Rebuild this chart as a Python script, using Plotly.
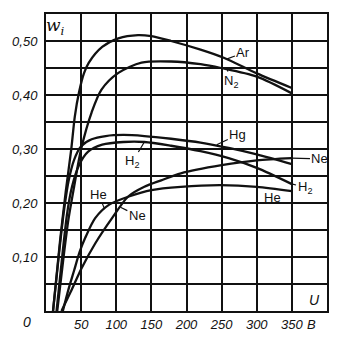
import plotly.graph_objects as go

# ---- data ----
ar_u  = [10, 20, 28, 36, 41, 47, 54, 61, 80, 103, 131, 150, 178, 220, 253, 300, 350]
ar_w  = [0, 0.13, 0.22, 0.30, 0.36, 0.405, 0.44, 0.46, 0.489, 0.505, 0.511, 0.509, 0.50, 0.484, 0.469, 0.44, 0.413]

n2_u  = [16, 25, 32, 40, 50, 65, 79, 103, 136, 178, 220, 249, 300, 350]
n2_w  = [0, 0.10, 0.17, 0.23, 0.30, 0.368, 0.41, 0.441, 0.460, 0.462, 0.457, 0.450, 0.434, 0.403]

hg_u  = [10, 18, 25, 32, 40, 50, 65, 85, 110, 140, 178, 220, 260, 300, 350]
hg_w  = [0, 0.10, 0.18, 0.24, 0.28, 0.305, 0.318, 0.324, 0.326, 0.324, 0.319, 0.312, 0.302, 0.29, 0.272]

h2_u  = [15, 23, 30, 37, 47, 60, 80, 110, 140, 178, 220, 260, 300, 350]
h2_w  = [0, 0.10, 0.18, 0.23, 0.27, 0.295, 0.308, 0.313, 0.313, 0.306, 0.296, 0.283, 0.265, 0.235]

he_u  = [24, 32, 40, 48, 56, 70, 90, 118, 150, 192, 248, 300, 350]
he_w  = [0, 0.04, 0.075, 0.11, 0.136, 0.172, 0.197, 0.212, 0.224, 0.230, 0.233, 0.230, 0.222]

ne_u  = [22, 35, 51, 70, 94, 117, 140, 164, 192, 250, 300, 350]
ne_w  = [0, 0.035, 0.08, 0.125, 0.172, 0.212, 0.23, 0.242, 0.255, 0.27, 0.279, 0.283]

x_ticks = [50, 100, 150, 200, 250, 300, 350]
x_text  = ["50", "100", "150", "200", "250", "300", "350"]
y_ticks = [0.05, 0.10, 0.15, 0.20, 0.25, 0.30, 0.35, 0.40, 0.45, 0.50]
y_text  = ["", "0,10", "", "0,20", "", "0,30", "", "0,40", "", "0,50"]

FONT = "Liberation Sans"
ink = "#111111"

fig = go.Figure()
for u, w in [(ar_u, ar_w), (n2_u, n2_w), (hg_u, hg_w), (h2_u, h2_w), (he_u, he_w), (ne_u, ne_w)]:
    fig.add_trace(go.Scatter(x=u, y=w, mode="lines",
                             line=dict(color=ink, width=2.3, shape="spline", smoothing=0.8),
                             showlegend=False, hoverinfo="skip"))

lab_font = dict(family=FONT, size=13, color=ink, style="normal")

def label(text, lx, ly, px=None, py=None):
    if px is None:
        fig.add_annotation(x=lx, y=ly, text=text, showarrow=False, font=lab_font)
    else:
        fig.add_annotation(x=px, y=py, ax=lx, ay=ly, axref="x", ayref="y",
                           text=text, showarrow=True, arrowhead=0, arrowwidth=1.2,
                           arrowcolor=ink, standoff=0, font=lab_font)

label("Ar", 281, 0.478, 256, 0.466)
label("N<sub>2</sub>", 264, 0.425, 258, 0.447)
label("Hg", 273, 0.326, 243, 0.308)
label("H<sub>2</sub>", 123, 0.276, 140, 0.313)
label("Ne", 390, 0.282, 350, 0.283)
label("H<sub>2</sub>", 368, 0.229, 351, 0.235)
label("He", 322, 0.211)
label("He", 75, 0.216, 83, 0.19)
label("Ne", 130, 0.177, 106, 0.192)

fig.add_annotation(x=14, y=0.527, text="<i>w<sub>i</sub></i>", showarrow=False,
                   font=dict(family="DejaVu Serif", size=17, color=ink))
fig.add_annotation(x=382, y=0.02, text="<i>U</i>", showarrow=False,
                   font=dict(family=FONT, size=14, color=ink, style="normal"))
fig.add_annotation(xref="paper", yref="paper", x=-0.066, y=-0.005, xanchor="center",
                   yanchor="top", text="<i>0</i>",
                   showarrow=False, font=dict(family=FONT, size=14, color=ink))
fig.add_annotation(xref="x", yref="paper", x=378, y=-0.012, yanchor="top",
                   text="<i>В</i>",
                   showarrow=False, font=dict(family=FONT, size=13, color=ink))

fig.update_layout(
    width=348, height=344,
    margin=dict(l=43, r=21, t=13, b=30),
    paper_bgcolor="white", plot_bgcolor="white",
    font=dict(family=FONT, size=13, color=ink, style="italic"),
    xaxis=dict(range=[0, 400], tickvals=x_ticks, ticktext=x_text,
               showgrid=True, gridcolor="#111111", gridwidth=1.8,
               showline=True, linecolor=ink, linewidth=2, mirror=True,
               ticks="", zeroline=False, fixedrange=True,
               tickfont=dict(family=FONT, size=13, style="italic")),
    yaxis=dict(range=[0, 0.55], tickvals=y_ticks, ticktext=y_text,
               showgrid=True, gridcolor="#111111", gridwidth=1.8,
               showline=True, linecolor=ink, linewidth=2, mirror=True,
               ticks="", zeroline=False, fixedrange=True, ticklabelstandoff=4,
               tickfont=dict(family=FONT, size=13, style="italic")),
)

fig.write_html("out.html")
